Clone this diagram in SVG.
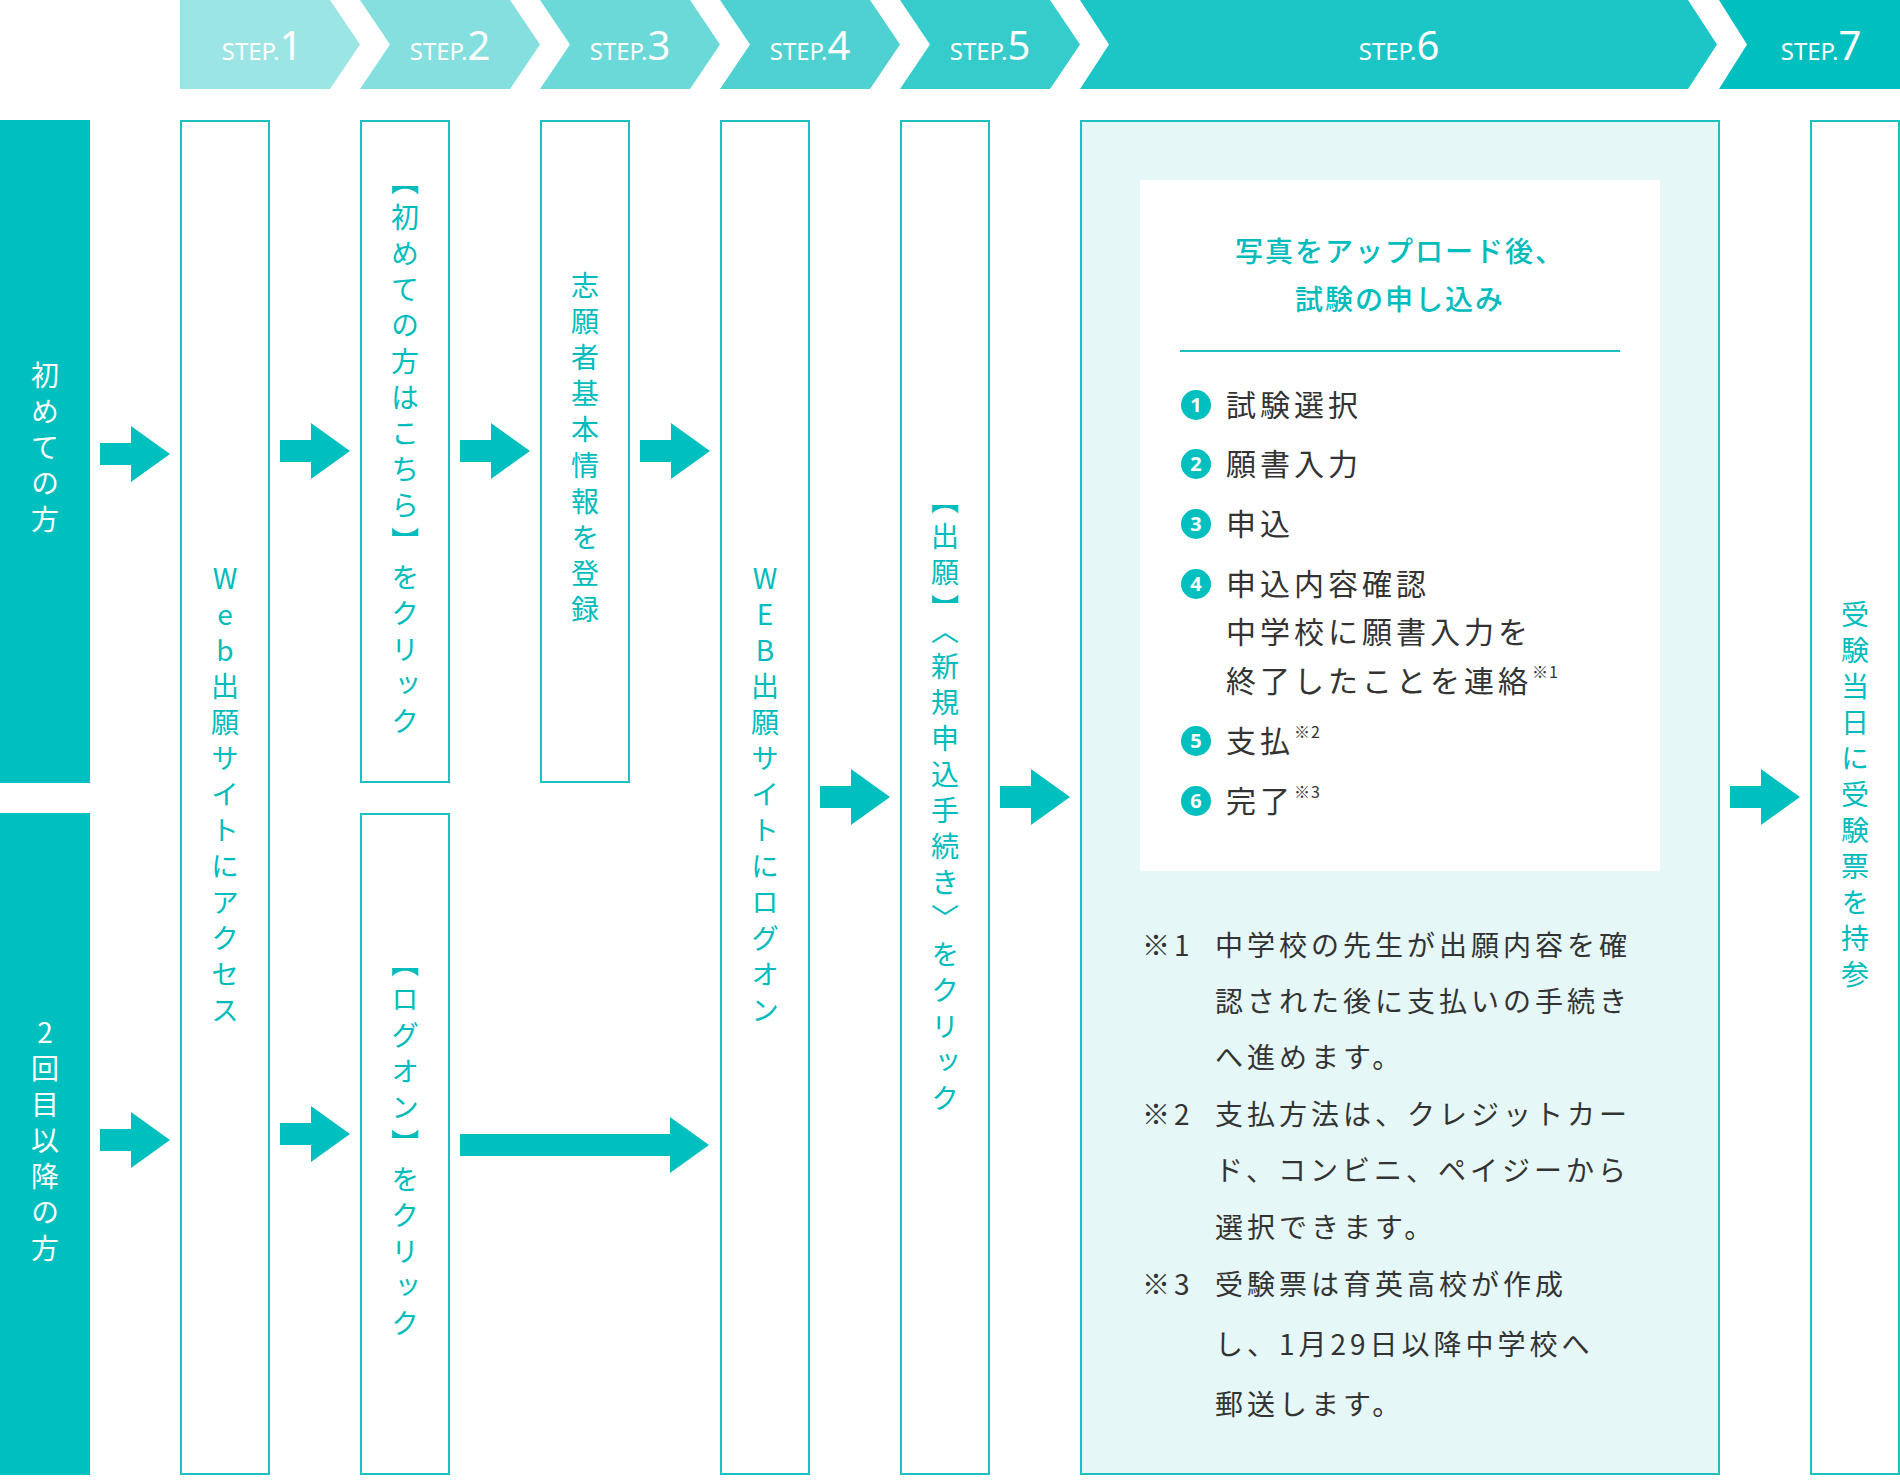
<svg xmlns="http://www.w3.org/2000/svg" width="1900" height="1480" viewBox="0 0 1900 1480">
<style>
.st{font-family:"Noto Sans","Open Sans",sans-serif;fill:#fff;text-anchor:middle}
.st .s{font-size:24px}
.st .n{font-size:40px}
.box{fill:#fff;stroke:#1cc0c0;stroke-width:2}
.vt{font-family:"Noto Sans CJK JP","Noto Sans",sans-serif;font-size:28px;letter-spacing:8px;fill:#00bcbc;writing-mode:vertical-rl;text-orientation:upright;text-anchor:middle}
.vw{fill:#fff}
.ar{fill:#00bfbf}
.li{font-family:"Noto Sans CJK JP","Noto Sans",sans-serif;font-size:30px;letter-spacing:4px;fill:#333}
.sup{font-size:16px;letter-spacing:1px}
.fn{font-family:"Noto Sans CJK JP","Noto Sans",sans-serif;font-size:28px;letter-spacing:4px;fill:#333}
.cn{fill:#00bfbf}
.cnt{font-family:"Noto Sans","Open Sans",sans-serif;font-size:20px;font-weight:bold;fill:#fff;text-anchor:middle}
.tt{font-family:"Noto Sans CJK JP","Noto Sans",sans-serif;font-size:28px;font-weight:500;fill:#00bcbc;text-anchor:middle;letter-spacing:2px}
</style>
<defs>
<path id="arr" d="M0,-11 H31 V-28 L70,0 L31,28 V11 H0 Z"/>
</defs>

<g id="steps">
<polygon points="180,0 330,0 360,44.5 330,89 180,89" fill="#9ce5e5"/>
<polygon points="360,0 510,0 540,44.5 510,89 360,89 390,44.5" fill="#84dfde"/>
<polygon points="540,0 690,0 720,44.5 690,89 540,89 570,44.5" fill="#6bd9d8"/>
<polygon points="720,0 870,0 900,44.5 870,89 720,89 750,44.5" fill="#4fd1d1"/>
<polygon points="900,0 1050,0 1080,44.5 1050,89 900,89 930,44.5" fill="#35cccb"/>
<polygon points="1080,0 1688,0 1717,44.5 1688,89 1080,89 1109,44.5" fill="#1dc6c6"/>
<polygon points="1719,0 1900,0 1900,89 1719,89 1747,44.5" fill="#00bfbf"/>
<text class="st" x="262" y="60"><tspan class="s">STEP.</tspan><tspan class="n">1</tspan></text>
<text class="st" x="450" y="60"><tspan class="s">STEP.</tspan><tspan class="n">2</tspan></text>
<text class="st" x="630" y="60"><tspan class="s">STEP.</tspan><tspan class="n">3</tspan></text>
<text class="st" x="810" y="60"><tspan class="s">STEP.</tspan><tspan class="n">4</tspan></text>
<text class="st" x="990" y="60"><tspan class="s">STEP.</tspan><tspan class="n">5</tspan></text>
<text class="st" x="1399" y="60"><tspan class="s">STEP.</tspan><tspan class="n">6</tspan></text>
<text class="st" x="1821" y="60"><tspan class="s">STEP.</tspan><tspan class="n">7</tspan></text>
</g>

<g id="label-first">
<rect x="0" y="120" width="90" height="663" fill="#00bfbf"/>
<text class="vt vw" x="45" y="451">初めての方</text>
</g>
<g id="label-second">
<rect x="0" y="813" width="90" height="662" fill="#00bfbf"/>
<text class="vt vw" x="45" y="1144">2回目以降の方</text>
</g>

<g id="step1-box">
<rect class="box" x="181" y="121" width="88" height="1353"/>
<text class="vt" x="225" y="798">Web出願サイトにアクセス</text>
</g>
<g id="step2-first">
<rect class="box" x="361" y="121" width="88" height="661"/>
<text class="vt" x="405" y="455">【初めての方はこちら】をクリック</text>
</g>
<g id="step2-second">
<rect class="box" x="361" y="814" width="88" height="660"/>
<text class="vt" x="405" y="1147">【ログオン】をクリック</text>
</g>
<g id="step3-box">
<rect class="box" x="541" y="121" width="88" height="661"/>
<text class="vt" x="585" y="451">志願者基本情報を登録</text>
</g>
<g id="step4-box">
<rect class="box" x="721" y="121" width="88" height="1353"/>
<text class="vt" x="765" y="798">WEB出願サイトにログオン</text>
</g>
<g id="step5-box">
<rect class="box" x="901" y="121" width="88" height="1353"/>
<text class="vt" x="945" y="803">【出願】〈新規申込手続き〉をクリック</text>
</g>

<g id="step6-box">
<rect x="1081" y="121" width="638" height="1353" fill="#e5f7f7" stroke="#1cc0c0" stroke-width="2"/>
<rect x="1140" y="180" width="520" height="691" fill="#fff"/>
<text class="tt" x="1400" y="262">写真をアップロード後、</text>
<text class="tt" x="1400" y="310">試験の申し込み</text>
<line x1="1180" y1="351" x2="1620" y2="351" stroke="#1cc0c0" stroke-width="2"/>
<circle class="cn" cx="1196" cy="405" r="15"/><text class="cnt" x="1196" y="412">1</text>
<text class="li" x="1226" y="416">試験選択</text>
<circle class="cn" cx="1196" cy="464" r="15"/><text class="cnt" x="1196" y="471">2</text>
<text class="li" x="1226" y="475">願書入力</text>
<circle class="cn" cx="1196" cy="524" r="15"/><text class="cnt" x="1196" y="531">3</text>
<text class="li" x="1226" y="535">申込</text>
<circle class="cn" cx="1196" cy="584" r="15"/><text class="cnt" x="1196" y="591">4</text>
<text class="li" x="1226" y="595">申込内容確認</text>
<text class="li" x="1226" y="643">中学校に願書入力を</text>
<text class="li" x="1226" y="692">終了したことを連絡<tspan class="sup" dy="-14">※1</tspan></text>
<circle class="cn" cx="1196" cy="741" r="15"/><text class="cnt" x="1196" y="748">5</text>
<text class="li" x="1226" y="752">支払<tspan class="sup" dy="-14">※2</tspan></text>
<circle class="cn" cx="1196" cy="801" r="15"/><text class="cnt" x="1196" y="808">6</text>
<text class="li" x="1226" y="812">完了<tspan class="sup" dy="-14">※3</tspan></text>
<text class="fn" x="1142" y="956">※1</text>
<text class="fn" x="1215" y="956">中学校の先生が出願内容を確</text>
<text class="fn" x="1215" y="1012">認された後に支払いの手続き</text>
<text class="fn" x="1215" y="1068">へ進めます。</text>
<text class="fn" x="1142" y="1125">※2</text>
<text class="fn" x="1215" y="1125">支払方法は、クレジットカー</text>
<text class="fn" x="1215" y="1181">ド、コンビニ、ペイジーから</text>
<text class="fn" x="1215" y="1238">選択できます。</text>
<text class="fn" x="1142" y="1295">※3</text>
<text class="fn" x="1215" y="1295" letter-spacing="7">受験票は育英高校が作成</text>
<text class="fn" x="1215" y="1355">し、1月29日以降中学校へ</text>
<text class="fn" x="1215" y="1415">郵送します。</text>
</g>

<g id="step7-box">
<rect class="box" x="1811" y="121" width="88" height="1353"/>
<text class="vt" x="1855" y="798">受験当日に受験票を持参</text>
</g>

<g id="connectors">
<use href="#arr" class="ar" x="100" y="454"/>
<use href="#arr" class="ar" x="280" y="451"/>
<use href="#arr" class="ar" x="460" y="451"/>
<use href="#arr" class="ar" x="640" y="451"/>
<use href="#arr" class="ar" x="100" y="1140"/>
<use href="#arr" class="ar" x="280" y="1134"/>
<path class="ar" d="M460,1134 H670 V1117 L709,1145 L670,1173 V1156 H460 Z"/>
<use href="#arr" class="ar" x="820" y="797"/>
<use href="#arr" class="ar" x="1000" y="797"/>
<use href="#arr" class="ar" x="1730" y="797"/>
</g>
</svg>
